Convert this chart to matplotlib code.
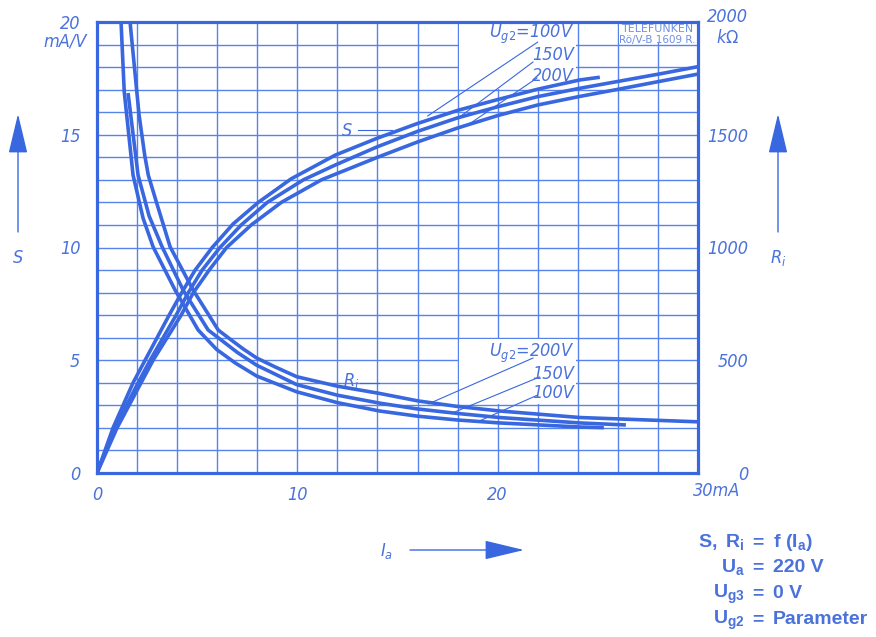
import matplotlib.pyplot as plt
from matplotlib import font_manager
from matplotlib.patches import Rectangle

# Steilheit S (mA/V) über Anodenstrom Ia (mA), je Schirmgitterspannung
s_ia_100 = [0, 0.8, 1.8, 2.4, 3.0, 3.6, 4.23, 4.9, 5.75, 6.8, 8.05, 9.7, 11.9, 14.0, 16.0, 18.0, 20.0, 22.0, 24.1, 25.1]
s_100 = [0, 2.0, 4.0, 5.0, 6.0, 7.0, 8.0, 9.0, 10.0, 11.05, 12.0, 13.05, 14.1, 14.85, 15.5, 16.08, 16.56, 17.02, 17.43, 17.55]

s_ia_150 = [0, 0.9, 2.05, 2.65, 3.3, 3.95, 4.56, 5.25, 6.14, 7.2, 8.5, 10.3, 11.9, 14.0, 16.0, 18.0, 20.0, 22.0, 24.1, 26.1, 28.1, 30.0]
s_150 = [0, 2.0, 4.0, 5.0, 6.0, 7.0, 8.0, 9.0, 10.0, 11.0, 12.0, 13.0, 13.66, 14.47, 15.15, 15.75, 16.24, 16.69, 17.06, 17.38, 17.7, 18.02]

s_ia_200 = [0, 1.0, 2.2, 2.8, 3.5, 4.2, 4.81, 5.6, 6.47, 7.7, 9.2, 11.2, 14.0, 16.0, 18.0, 20.0, 22.0, 24.1, 26.1, 28.1, 30.0]
s_200 = [0, 2.0, 4.0, 5.0, 6.0, 7.0, 8.0, 9.0, 10.0, 11.0, 12.0, 13.0, 14.0, 14.68, 15.3, 15.85, 16.32, 16.7, 17.03, 17.37, 17.69]

# Innenwiderstand Ri (kOhm) über Ia (mA)
ri_ia_100 = [1.2, 1.36, 1.8, 2.3, 2.8, 3.9, 5.05, 5.97, 6.9, 7.97, 9.97, 12.0, 14.1, 16.0, 18.0, 20.1, 24.1, 25.3]
ri_100 = [2000, 1690, 1321, 1130, 1003, 811, 634, 548, 488, 430, 360, 312, 275, 252, 235, 222, 204, 201]

ri_ia_150 = [1.55, 2.05, 2.6, 3.25, 4.3, 5.55, 6.05, 7.0, 7.97, 9.97, 12.0, 14.1, 16.0, 18.0, 20.1, 24.1, 26.4]
ri_150 = [1685, 1321, 1140, 1003, 811, 634, 600, 535, 478, 392, 345, 310, 284, 264, 246, 222, 213]

ri_ia_200 = [1.65, 2.1, 2.38, 2.56, 2.98, 3.65, 4.8, 6.05, 6.55, 7.3, 7.97, 8.9, 9.97, 12.0, 14.1, 16.0, 18.0, 20.1, 24.1, 30.0]
ri_200 = [2000, 1588, 1410, 1321, 1197, 1003, 811, 634, 600, 550, 510, 470, 427, 385, 353, 320, 295, 275, 246, 227]

x_ticks = [0, 10, 20, 30]
x_ticklabels = ["0", "10", "20", ""]
s_ticks = [0, 5, 10, 15, 20]
ri_ticks = [0, 500, 1000, 1500, 2000]

fonts = font_manager.fontManager.ttflist
has_condensed = any(f.name == "DejaVu Sans" and f.stretch == "condensed" for f in fonts)
stretch = "condensed" if has_condensed else "normal"

plt.rcParams["font.family"] = ["DejaVu Sans"]
plt.rcParams["mathtext.fontset"] = "custom"
plt.rcParams["mathtext.it"] = "DejaVu Sans:style=italic:stretch=" + stretch
plt.rcParams["mathtext.rm"] = "DejaVu Sans:stretch=" + stretch
plt.rcParams["mathtext.bf"] = "Liberation Sans:bold"

blue = "#3867e0"
grid_blue = "#5684ec"
text_blue = "#4b72db"
label_size = 13 if has_condensed else 11.5

W, H = 876, 637
fig = plt.figure(figsize=(W / 100, H / 100), dpi=100)
ax = fig.add_axes([97 / W, 1 - 473 / H, 601 / W, 451 / H])
ax.set_xlim(0, 30)
ax.set_ylim(0, 20)

# Raster
for x in range(2, 30, 2):
    ax.axvline(x, color=grid_blue, lw=1.0, zorder=1)
for y in range(1, 20):
    ax.axhline(y, color=grid_blue, lw=1.0, zorder=1)

# ausgesparte Felder für Beschriftungen
for (x0, y0, w, h) in [(18, 17, 6, 3), (18, 3, 6, 3), (26, 19, 4, 1)]:
    ax.add_patch(Rectangle((x0 + 0.07, y0 + 0.05), w - 0.14, h - 0.1,
                           fc="white", ec="none", zorder=1.5))

for sp in ax.spines.values():
    sp.set_color(blue)
    sp.set_linewidth(2.3)

label_kw = dict(fontstyle="italic", fontsize=label_size, color=text_blue, fontstretch=stretch)
ax.set_xticks(x_ticks)
ax.set_xticklabels(x_ticklabels, **label_kw)
ax.set_yticks(s_ticks)
ax.set_yticklabels([str(v) for v in s_ticks], **label_kw)
ax.tick_params(axis="both", length=0)
ax.tick_params(axis="x", pad=9)
ax.tick_params(axis="y", pad=12)
ax.annotate("30mA", xy=(30, 0), xytext=(-3.5, -6.5), textcoords="offset points",
            ha="left", va="top", annotation_clip=False, **label_kw)

curve_kw = dict(color=blue, lw=2.6, solid_capstyle="butt", solid_joinstyle="round", zorder=3)
ax.plot(s_ia_100, s_100, **curve_kw)
ax.plot(s_ia_150, s_150, **curve_kw)
ax.plot(s_ia_200, s_200, **curve_kw)

ax2 = ax.twinx()
ax2.set_ylim(0, 2000)
ax2.set_yticks(ri_ticks)
ax2.set_yticklabels([str(v) for v in ri_ticks], **label_kw)
for t in ax2.get_yticklabels():
    t.set_horizontalalignment("right")
ax2.get_yticklabels()[-1].set_verticalalignment("baseline")
ax2.tick_params(axis="y", length=0, pad=36)
for sp in ax2.spines.values():
    sp.set_visible(False)

ax2.plot(ri_ia_100, ri_100, **curve_kw)
ax2.plot(ri_ia_150, ri_150, **curve_kw)
ax2.plot(ri_ia_200, ri_200, **curve_kw)

# Parameterbeschriftungen mit Hinweislinien
lead_kw = dict(arrowstyle="-", color=blue, lw=0.8, shrinkA=0, shrinkB=0)
txt_kw = dict(fontstyle="italic", fontsize=label_size, color=text_blue,
              fontstretch=stretch, zorder=5)

ax.text(23.8, 19.45, r"$U_{g2}$=100V", ha="right", va="center", **txt_kw)
ax.text(23.8, 18.55, "150V", ha="right", va="center", **txt_kw)
ax.text(23.8, 17.62, "200V", ha="right", va="center", **txt_kw)
ax.annotate("", xy=(16.5, 15.83), xytext=(22.0, 19.11), arrowprops=lead_kw)
ax.annotate("", xy=(17.97, 15.7), xytext=(21.77, 18.23), arrowprops=lead_kw)
ax.annotate("", xy=(18.62, 15.5), xytext=(21.97, 17.52), arrowprops=lead_kw)

ax.text(23.8, 5.3, r"$U_{g2}$=200V", ha="right", va="center", **txt_kw)
ax.text(23.8, 4.4, "150V", ha="right", va="center", **txt_kw)
ax.text(23.8, 3.55, "100V", ha="right", va="center", **txt_kw)
ax.annotate("", xy=(16.53, 3.06), xytext=(21.77, 5.10), arrowprops=lead_kw)
ax.annotate("", xy=(17.73, 2.66), xytext=(22.1, 4.26), arrowprops=lead_kw)
ax.annotate("", xy=(18.97, 2.26), xytext=(22.0, 3.46), arrowprops=lead_kw)

ax.text(12.5, 15.17, "S", ha="center", va="center", **txt_kw)
ax.plot([13.05, 14.75], [15.2, 15.2], color=blue, lw=0.8, zorder=4)
ax.text(12.7, 4.1, r"$R_i$", ha="center", va="center", **txt_kw)
ax.plot([13.15, 14.1], [3.98, 3.98], color=blue, lw=0.8, zorder=4)

ax.text(26.2, 19.7, "TELEFUNKEN", ha="left", va="center", fontsize=7.9,
        color="#6f8fe0", family="DejaVu Sans", zorder=5)
ax.text(26.05, 19.2, "Rö/V-B 1609 R.", ha="left", va="center", fontsize=7.5,
        color="#6f8fe0", family="DejaVu Sans", zorder=5)


def fpx(x, y):
    return x / W, 1 - y / H


fig.text(*fpx(87, 42), "mA/V", ha="right", va="center", **label_kw)
fig.text(*fpx(716, 38), r"$k\Omega$", ha="left", va="center", **label_kw)
fig.text(*fpx(18, 258), "S", ha="center", va="center", **label_kw)
fig.text(*fpx(778, 258), r"$R_i$", ha="center", va="center", **label_kw)
fig.text(*fpx(386, 551), r"$I_a$", ha="center", va="center", **label_kw)

# Richtungspfeile
arrow_kw = dict(arrowstyle="-|>,head_length=2.5,head_width=0.6", mutation_scale=10,
                color=blue, lw=1.0, shrinkA=0, shrinkB=0)
for start, end in [((18, H - 232), (18, H - 114)),
                   ((778, H - 232), (778, H - 114)),
                   ((410, H - 550), (524, H - 550))]:
    ax.annotate("", xy=end, xytext=start, xycoords="figure pixels",
                textcoords="figure pixels", arrowprops=arrow_kw)

# Betriebsbedingungen
cond_left = [r"$\mathbf{S,\ R_i}$", r"$\mathbf{U_a}$", r"$\mathbf{U_{g3}}$", r"$\mathbf{U_{g2}}$"]
cond_right = [r"$\mathbf{f\ (I_a)}$", "220 V", "0 V", "Parameter"]
cond_y = [547, 572, 598, 624]
bold_kw = dict(fontsize=14, fontweight="bold", color=text_blue, family="Liberation Sans", va="baseline")
for left, right, yb in zip(cond_left, cond_right, cond_y):
    fig.text(*fpx(745, yb), left, ha="right", **bold_kw)
    fig.text(*fpx(758, yb), "=", ha="center", **bold_kw)
    fig.text(*fpx(773, yb), right, ha="left", **bold_kw)

fig.savefig("out.png", dpi=100)
